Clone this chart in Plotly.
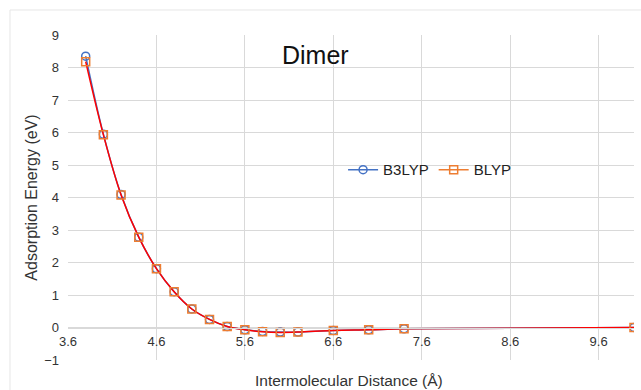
import plotly.graph_objects as go

distance = [3.8, 4.0, 4.2, 4.4, 4.6, 4.8, 5.0, 5.2, 5.4, 5.6, 5.8, 6.0, 6.2, 6.6, 7.0, 7.4, 10.0]
b3lyp = [8.35, 5.95, 4.09, 2.78, 1.81, 1.10, 0.57, 0.25, 0.03, -0.07, -0.12, -0.14, -0.14, -0.09, -0.07, -0.04, 0.0]
blyp = [8.18, 5.93, 4.08, 2.78, 1.81, 1.10, 0.57, 0.25, 0.03, -0.07, -0.13, -0.15, -0.14, -0.09, -0.07, -0.04, 0.0]
x_ticks = [3.6, 4.6, 5.6, 6.6, 7.6, 8.6, 9.6]
y_ticks = [-1, 0, 1, 2, 3, 4, 5, 6, 7, 8, 9]

BLUE = "#4472C4"
ORANGE = "#ED7D31"
RED = "#FF0000"
GRID = "#D9D9D9"
FONT = "Liberation Sans, Arial, sans-serif"

fig = go.Figure()
fig.add_trace(go.Scatter(
    x=distance, y=b3lyp, name="B3LYP", mode="lines+markers",
    line=dict(color=BLUE, width=1.5, shape="spline"),
    marker=dict(symbol="circle-open", size=8, color=BLUE, line=dict(width=1.5)),
))
fig.add_trace(go.Scatter(
    x=distance, y=blyp, mode="lines", showlegend=False, hoverinfo="skip",
    line=dict(color=RED, width=1.5, shape="spline"),
))
fig.add_trace(go.Scatter(
    x=distance, y=blyp, name="BLYP", mode="markers", showlegend=False,
    marker=dict(symbol="square-open", size=8, color=ORANGE, line=dict(width=1.5)),
))
fig.add_trace(go.Scatter(
    x=[None], y=[None], name="BLYP", mode="lines+markers",
    line=dict(color=ORANGE, width=1.5),
    marker=dict(symbol="square-open", size=8, color=ORANGE, line=dict(width=1.5)),
))

fig.update_layout(
    width=641, height=390,
    margin=dict(l=68, r=7, t=35, b=30),
    paper_bgcolor="white", plot_bgcolor="white",
    font=dict(family=FONT, size=13, color="#333333"),
    showlegend=True,
    legend=dict(orientation="h", x=0.486, y=0.585, xanchor="left", yanchor="middle",
                font=dict(size=15, color="#222222"), itemwidth=30,
                bgcolor="rgba(0,0,0,0)", tracegroupgap=0),
    xaxis=dict(range=[3.6, 10.0], tickvals=x_ticks, ticktext=[f"{v:.1f}" for v in x_ticks],
               showgrid=True, gridcolor=GRID, gridwidth=1, zeroline=False,
               showline=True, linecolor=GRID, linewidth=1,
               anchor="free", position=0.1, ticks="", ticklabelstandoff=2,
               tickfont=dict(size=13, color="#333333")),
    yaxis=dict(range=[-1, 9], tickvals=y_ticks, showgrid=True, gridcolor=GRID, gridwidth=1,
               zeroline=False, showline=False, ticks="", ticklabelstandoff=8,
               tickfont=dict(size=13, color="#333333"),
               title=dict(text="Adsorption Energy (eV)", font=dict(size=16, color="#333333"), standoff=2)),
    annotations=[
        dict(text="Dimer", x=0.438, y=0.94, xref="paper", yref="paper",
             xanchor="center", yanchor="middle",
             showarrow=False, font=dict(size=25, color="#111111")),
        dict(text="Intermolecular Distance (Å)", x=0.496, y=-0.062, xref="paper", yref="paper",
             showarrow=False, yanchor="middle", font=dict(size=15.5, color="#333333")),
    ],
    shapes=[dict(type="rect", xref="paper", yref="paper", x0=-0.1025, x1=1.1, y0=-0.2, y1=1.077,
                 line=dict(color="#E6E6E6", width=1), fillcolor="rgba(0,0,0,0)", layer="below")],
)

fig.write_html("out.html")
